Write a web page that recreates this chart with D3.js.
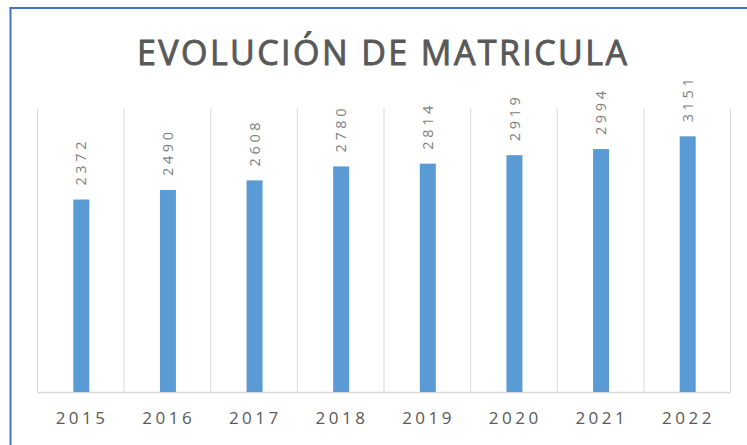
<!DOCTYPE html>
<html>
<head>
<meta charset="utf-8">
<script src="https://cdn.jsdelivr.net/npm/d3@7"></script>
<style>
  html, body { margin: 0; padding: 0; background: #fff; }
  svg { display: block; }
</style>
</head>
<body>
<svg id="chart" width="747" height="445"></svg>
<script>
// ======================================
// Datos
// ======================================
const anios = ["2015", "2016", "2017", "2018", "2019", "2020", "2021", "2022"];
const matricula = [2372, 2490, 2608, 2780, 2814, 2919, 2994, 3151];
const titulo = "EVOLUCIÓN DE MATRICULA";

// ======================================
// Medidas
// ======================================
const W = 747, H = 445;
const area = { left: 37, right: 730, top: 108, bottom: 392 };
const fuente = "'Open Sans', 'Liberation Sans', sans-serif";

const svg = d3.select("#chart");

// marco azul del gráfico
svg.append("rect")
  .attr("x", 10.5)
  .attr("y", 8)
  .attr("width", W + 10)
  .attr("height", H + 10)
  .attr("fill", "#fff")
  .attr("stroke", "#4472c4")
  .attr("stroke-width", 2);

// titulo
svg.append("text")
  .attr("x", 137)
  .attr("y", 65)
  .attr("textLength", 490)
  .attr("lengthAdjust", "spacing")
  .style("font-family", fuente)
  .style("font-size", "34px")
  .style("font-weight", 500)
  .attr("fill", "#595959")
  .attr("stroke", "#595959")
  .attr("stroke-width", 0.9)
  .text(titulo);

// escalas
const x = d3.scaleBand()
  .domain(anios)
  .range([area.left, area.right])
  .paddingInner(0)
  .paddingOuter(0);

const y = d3.scaleLinear()
  .domain([0, 3500])
  .range([area.bottom, area.top]);

// lineas verticales entre categorias
const bordes = anios.map(a => x(a)).concat([area.right]);
svg.append("g")
  .selectAll("line")
  .data(bordes)
  .join("line")
  .attr("x1", d => d + 0.5)
  .attr("x2", d => d + 0.5)
  .attr("y1", area.top)
  .attr("y2", area.bottom)
  .attr("stroke", "#d9d9d9")
  .attr("stroke-width", 1);

// eje horizontal
const ejeX = svg.append("g")
  .attr("transform", `translate(0,${area.bottom})`)
  .call(d3.axisBottom(x).tickSize(0).tickPadding(20));

ejeX.select(".domain")
  .attr("stroke", "#d9d9d9")
  .attr("stroke-width", 1.5);

ejeX.selectAll("text")
  .style("font-family", fuente)
  .style("font-size", "17px")
  .style("letter-spacing", "3.5px")
  .attr("fill", "#595959")
  .attr("dx", "1.75px");

// barras
const anchoBarra = 16;
svg.append("g")
  .selectAll("rect")
  .data(anios)
  .join("rect")
  .attr("x", (d, i) => x(d) + x.bandwidth() / 2 - anchoBarra / 2 + 1)
  .attr("y", (d, i) => y(matricula[i]))
  .attr("width", anchoBarra)
  .attr("height", (d, i) => area.bottom - y(matricula[i]))
  .attr("fill", "#5b9bd5");

// etiquetas de valores (rotadas)
svg.append("g")
  .selectAll("text")
  .data(anios)
  .join("text")
  .attr("transform", (d, i) => {
    const cx = x(d) + x.bandwidth() / 2 + 1;
    const cy = y(matricula[i]) - 14;
    return `translate(${cx},${cy}) rotate(-90)`;
  })
  .attr("dy", "0.35em")
  .attr("text-anchor", "start")
  .attr("textLength", 44)
  .attr("lengthAdjust", "spacing")
  .style("font-family", fuente)
  .style("font-size", "14.5px")
  .attr("fill", "#7f7f7f")
  .text((d, i) => matricula[i]);
</script>
</body>
</html>
